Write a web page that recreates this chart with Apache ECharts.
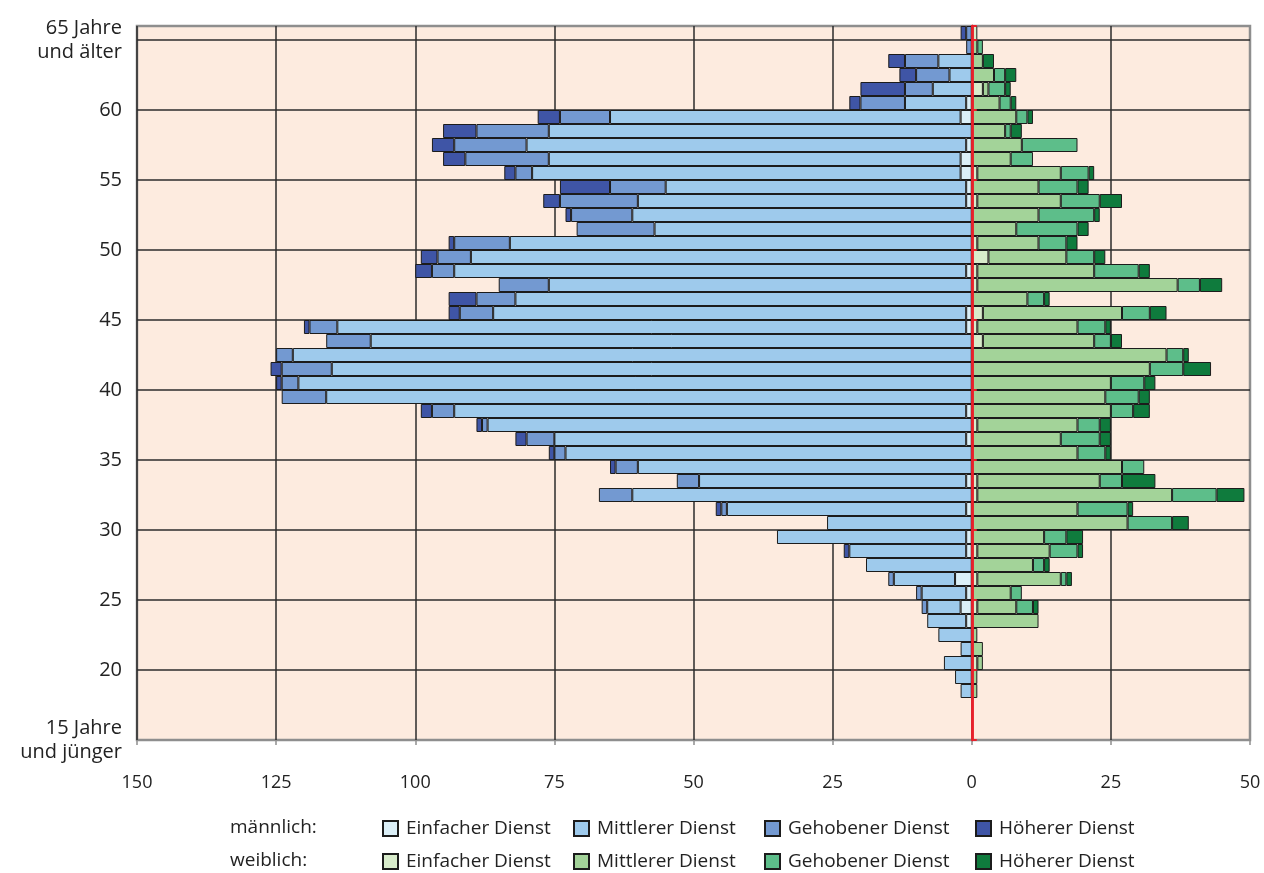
<!DOCTYPE html>
<html><head><meta charset="utf-8">
<script src="https://cdn.jsdelivr.net/npm/echarts@6/dist/echarts.min.js"></script>
<style>html,body{margin:0;padding:0;background:#fff}#c{width:1264px;height:873px}</style>
</head><body><div id="c"></div>
<script>
// Ages 15 (and younger) .. 65 (and older)
const ages = ['15','16','17','18','19','20','21','22','23','24','25','26','27','28','29','30','31','32','33','34','35','36','37','38','39','40','41','42','43','44','45','46','47','48','49','50','51','52','53','54','55','56','57','58','59','60','61','62','63','64','65'];
// männlich
const mEinfach  = [0,0,0,0,0,0,0,0,1,2,1,3,0,1,1,0,1,0,1,0,0,1,0,1,0,0,0,0,0,1,1,0,0,1,0,0,0,0,1,1,2,2,1,0,2,1,0,0,0,0,0];
const mMittel   = [0,0,0,2,3,5,2,6,7,6,8,11,19,21,34,26,43,61,48,60,73,74,87,92,116,121,115,122,108,113,85,82,76,92,90,83,57,61,59,54,77,74,79,76,63,11,7,4,6,0,0];
const mGehoben  = [0,0,0,0,0,0,0,0,0,1,1,1,0,0,0,0,1,6,4,4,2,5,1,4,8,3,9,3,8,5,6,7,9,4,6,10,14,11,14,10,3,15,13,13,9,8,5,6,6,1,1];
const mHoeher   = [0,0,0,0,0,0,0,0,0,0,0,0,0,1,0,0,1,0,0,1,1,2,1,2,0,1,2,0,0,1,2,5,0,3,3,1,0,1,3,9,2,4,4,6,4,2,8,3,3,0,1];
// weiblich
const wEinfach  = [0,0,0,0,0,1,0,0,0,1,0,1,0,1,0,0,0,1,1,0,0,0,1,0,0,0,0,0,2,1,2,0,1,1,3,1,0,0,1,0,1,0,0,0,0,0,2,0,0,0,1];
const wMittel   = [0,0,0,1,1,1,2,1,12,7,7,15,11,13,13,28,19,35,22,27,19,16,18,25,24,25,32,35,20,18,25,10,36,21,14,11,8,12,15,12,15,7,9,6,8,5,1,4,2,1,0];
const wGehoben  = [0,0,0,0,0,0,0,0,0,3,2,1,2,5,4,8,9,8,4,4,5,7,4,4,6,6,6,3,3,5,5,3,4,8,5,5,11,10,7,7,5,4,10,1,2,2,3,2,0,1,0];
const wHoeher   = [0,0,0,0,0,0,0,0,0,1,0,1,1,1,3,3,1,5,6,0,1,2,2,3,2,2,5,1,2,1,3,1,4,2,2,2,2,1,4,2,1,0,0,2,1,1,1,2,2,0,0];
const yTickLabels = ['15 Jahre\nund jünger','20','25','30','35','40','45','50','55','60','65 Jahre\nund älter'];
const legendNames = ['Einfacher Dienst','Mittlerer Dienst','Gehobener Dienst','Höherer Dienst'];
const groupLabels = ['männlich:','weiblich:'];

const FONT = "'Open Sans', 'Noto Sans', sans-serif";
const colorsM = ['#DBEFF7','#9ECAEC','#7399D1','#3F55A6'];
const colorsW = ['#D8ECCB','#A3D399','#5DBE8A','#0F7B3D'];
const groups = [
  {key:'m', sign:-1, arrays:[mEinfach,mMittel,mGehoben,mHoeher], colors:colorsM},
  {key:'w', sign: 1, arrays:[wEinfach,wMittel,wGehoben,wHoeher], colors:colorsW}
];
const series = [];
groups.forEach(g => {
  g.arrays.forEach((arr, j) => {
    series.push({
      name: g.key + '|' + legendNames[j],
      type: 'bar', stack: 'total', xAxisIndex: 0, yAxisIndex: 1,
      barCategoryGap: '0%', barGap: '0%',
      itemStyle: {color: g.colors[j], borderColor: '#1c1c1c', borderWidth: 1},
      emphasis: {disabled: true},
      data: arr.map(v => v === 0 ? null : g.sign * v)
    });
  });
});

const legendLefts = [382, 573, 764, 975];
const legendTops = [819, 852];
const legends = [];
groups.forEach((g, r) => {
  legendNames.forEach((n, j) => {
    legends.push({
      left: legendLefts[j] - 5, top: legendTops[r] - 5,
      data: [g.key + '|' + n], icon: 'rect', itemWidth: 15, itemHeight: 15,
      selectedMode: false,
      formatter: name => name.split('|')[1],
      textStyle: {fontSize: 19, color: '#222', fontFamily: FONT, padding: [0,0,0,3]}
    });
  });
});

const isMajor = i => i % 5 === 0;
const redAxisBase = {
  type: 'category', data: ages, z: 10,
  axisLine: {show: true, onZero: true, onZeroAxisIndex: 0, lineStyle: {color: '#E8212B', width: 2.5}},
  axisTick: {show: true, interval: (i) => isMajor(i), length: 5, lineStyle: {color: '#E8212B', width: 2}},
  axisLabel: {show: false}, splitLine: {show: false}
};

const option = {
  animation: false,
  backgroundColor: '#ffffff',
  textStyle: {fontFamily: FONT},
  grid: {left: 137, right: 14, top: 26, bottom: 133, show: true,
         backgroundColor: '#FDEBDF', borderColor: '#8E8E8E', borderWidth: 2.5},
  legend: legends,
  xAxis: {
    type: 'value', min: -150, max: 50, interval: 25,
    axisLine: {show: false, onZero: false},
    axisTick: {show: true, length: 5, lineStyle: {color: '#8E8E8E', width: 1.5}},
    axisLabel: {margin: 34, fontSize: 18, color: '#222', fontFamily: FONT,
                formatter: v => String(Math.abs(v))},
    splitLine: {show: true, showMaxLine: false, lineStyle: {color: '#2b2b2b', width: 1.5}}
  },
  yAxis: [
    {
      // label axis: boundaries between age bands (0 = bottom edge, 51 = top edge)
      type: 'value', position: 'left', min: 0, max: 51, interval: 5,
      axisLine: {show: false, onZero: false}, axisTick: {show: false},
      axisLabel: {
        margin: 15, fontSize: 20, color: '#222', fontFamily: FONT, lineHeight: 24, align: 'right',
        formatter: v => (v % 5 === 0 && v <= 50) ? yTickLabels[v / 5] : ''
      },
      splitLine: {show: true, showMinLine: false, showMaxLine: false,
                  lineStyle: {color: '#2b2b2b', width: 1.5}}
    },
    {
      type: 'category', data: ages, position: 'right',
      axisLine: {show: false, onZero: false}, axisTick: {show: false},
      axisLabel: {show: false}, splitLine: {show: false}
    },
    Object.assign({position: 'right'}, redAxisBase, {axisTick: Object.assign({}, redAxisBase.axisTick, {inside: false})}),
    Object.assign({position: 'left'}, redAxisBase, {axisTick: Object.assign({}, redAxisBase.axisTick, {inside: true})})
  ],
  graphic: groupLabels.map((t, r) => ({
    type: 'text', left: 230, top: legendTops[r] - 1,
    style: {text: t, fontSize: 19, fill: '#222', fontFamily: FONT}
  })),
  series: series
};
const chart = echarts.init(document.getElementById('c'), null, {renderer: 'canvas'});
chart.setOption(option);
</script>
</body></html>
